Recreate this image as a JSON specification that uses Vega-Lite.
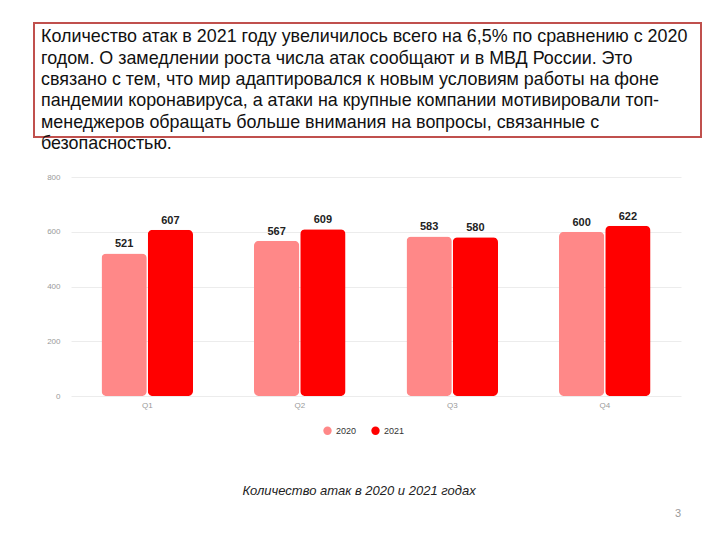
{
  "$schema": "https://vega.github.io/schema/vega-lite/v6.json",
  "padding": {"left": 33, "top": 22, "right": 5, "bottom": 5},
  "background": "white",
  "spacing": 19,
  "config": {
    "view": {"stroke": null},
    "font": "Liberation Sans"
  },
  "title": {
    "text": "3",
    "orient": "bottom",
    "anchor": "end",
    "fontSize": 11,
    "fontWeight": "normal",
    "color": "#9a9a9a",
    "offset": 10,
    "dx": -21
  },
  "datasets": {
    "lines": [
      {"line": 1, "text": "Количество атак в 2021 году увеличилось всего на 6,5% по сравнению с 2020"},
      {"line": 2, "text": "годом. О замедлении роста числа атак сообщают и в МВД России. Это"},
      {"line": 3, "text": "связано с тем, что мир адаптировался к новым условиям работы на фоне"},
      {"line": 4, "text": "пандемии коронавируса, а атаки на крупные компании мотивировали топ-"},
      {"line": 5, "text": "менеджеров обращать больше внимания на вопросы, связанные с"},
      {"line": 6, "text": "безопасностью."}
    ],
    "attacks": [
      {"quarter": "Q1", "year": "2020", "attacks": 521},
      {"quarter": "Q1", "year": "2021", "attacks": 607},
      {"quarter": "Q2", "year": "2020", "attacks": 567},
      {"quarter": "Q2", "year": "2021", "attacks": 609},
      {"quarter": "Q3", "year": "2020", "attacks": 583},
      {"quarter": "Q3", "year": "2021", "attacks": 580},
      {"quarter": "Q4", "year": "2020", "attacks": 600},
      {"quarter": "Q4", "year": "2021", "attacks": 622}
    ]
  },
  "vconcat": [
    {
      "width": 667,
      "height": 114,
      "view": {"stroke": "#c0504d", "strokeWidth": 2},
      "data": {"name": "lines"},
      "mark": {"type": "text", "align": "left", "baseline": "middle", "fontSize": 17.9, "font": "Liberation Sans", "color": "#111111", "dx": 7},
      "encoding": {
        "x": {"datum": 0, "type": "quantitative", "scale": {"domain": [0, 1]}, "axis": null},
        "y": {"field": "line", "type": "quantitative", "scale": {"domain": [0.33, 5.67], "reverse": true, "nice": false, "zero": false}, "axis": null},
        "text": {"field": "text"}
      }
    },
    {
      "spacing": 0,
      "hconcat": [
        {
          "width": 12,
          "height": 10,
          "data": {"values": [{}]},
          "mark": {"type": "text"},
          "encoding": {"text": {"value": ""}}
        },
        {
          "width": 610,
          "height": 219,
          "data": {"name": "attacks"},
          "title": {
            "text": "Количество атак в 2020 и 2021 годах",
            "orient": "bottom",
            "anchor": "middle",
            "fontSize": 13,
            "fontStyle": "italic",
            "fontWeight": "normal",
            "color": "#222222",
            "offset": 76,
            "dx": -17
          },
          "encoding": {
            "x": {
              "field": "quarter", "type": "nominal",
              "scale": {"paddingInner": 0.4, "paddingOuter": 0.2},
              "axis": {"title": null, "labelAngle": 0, "labelColor": "#9a9a9a", "labelFontSize": 8, "labelPadding": 5, "ticks": false, "domain": false}
            },
            "xOffset": {"field": "year", "type": "nominal", "scale": {"paddingInner": 0.02}},
            "y": {
              "field": "attacks", "type": "quantitative",
              "scale": {"domain": [0, 800]},
              "axis": {"values": [0, 200, 400, 600, 800], "title": null, "labelColor": "#9a9a9a", "labelFontSize": 8, "labelPadding": 11, "ticks": false, "domain": false, "gridColor": "#ececec"}
            }
          },
          "layer": [
            {
              "mark": {"type": "bar", "cornerRadius": 5},
              "encoding": {
                "color": {
                  "field": "year", "type": "nominal",
                  "scale": {"domain": ["2020", "2021"], "range": ["#ff8888", "#ff0000"]},
                  "legend": {"title": null, "orient": "none", "direction": "horizontal", "legendX": 289, "legendY": 403, "symbolType": "circle", "symbolSize": 70, "symbolStrokeWidth": 0, "labelFontSize": 9, "labelColor": "#333333", "columnPadding": 14}
                }
              }
            },
            {
              "mark": {"type": "text", "baseline": "bottom", "dy": -4, "fontSize": 11, "fontWeight": "bold", "color": "#222222"},
              "encoding": {
                "text": {"field": "attacks", "type": "quantitative"}
              }
            }
          ]
        }
      ]
    }
  ]
}
